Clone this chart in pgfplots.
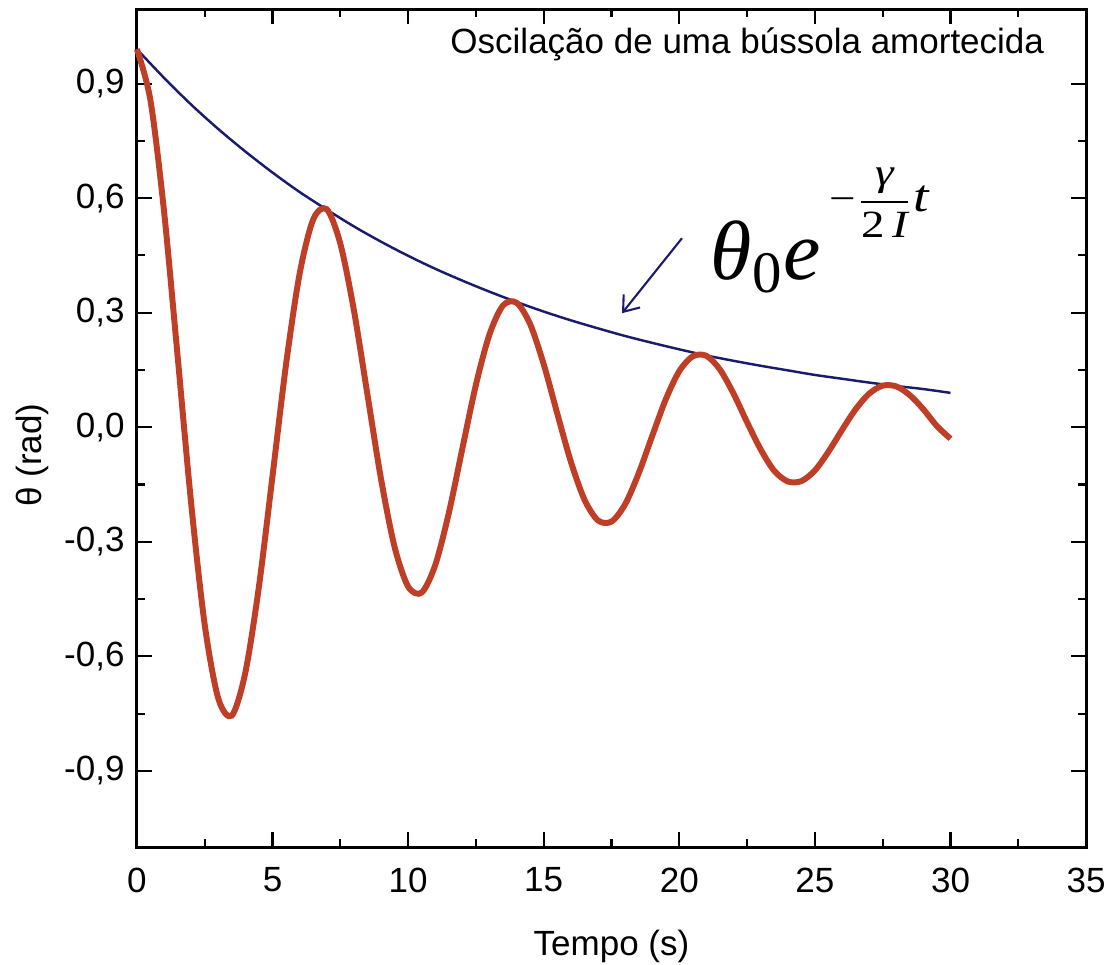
\documentclass[border=0pt]{standalone}
\usepackage{amsmath}
\usepackage{graphicx}
\usepackage{fontspec}
\setmainfont{Liberation Sans}
\newfontfamily\tnr{Liberation Serif}
\usepackage{pgfplots}
\pgfplotsset{compat=1.18}
\usetikzlibrary{arrows.meta}
\definecolor{dampred}{HTML}{BE3F26}
\definecolor{envblue}{HTML}{1B1B6E}
\newcommand{\ti}[1]{\text{\tnr\itshape #1}}
\newcommand{\tu}[1]{\text{\tnr\upshape #1}}

\begin{document}
\begin{tikzpicture}
\begin{axis}[
  scale only axis,
  width=271.1pt, height=239.4pt,
  xmin=0, xmax=35, ymin=-1.1, ymax=1.095,
  xtick={0,5,...,35},
  ytick={-0.9,-0.6,-0.3,0,0.3,0.6,0.9},
  minor tick num=1,
  tick align=inside,
  major tick length=4.3pt, minor tick length=2.3pt,
  axis line style={line width=0.85pt},
  tick style={line width=0.6pt, black},
  /pgf/number format/assume math mode=true,
  yticklabel style={/pgf/number format/.cd, fixed, fixed zerofill, precision=1, use comma},
  xticklabel style={yshift=-2.3pt},
  tick label style={font=\normalsize},
  xlabel={Tempo (s)},
  xlabel style={at={(axis description cs:0.5,-0.129)}, anchor=base},
  ylabel={θ (rad)},
  ylabel style={at={(axis description cs:-0.1096,0.468)}, anchor=center},
  clip=false,
]
% envelope theta0 exp(-gamma t / 2I)
\addplot[color=envblue, line width=0.7pt, smooth] coordinates {
  (0,0.990) (1,0.915) (2,0.845) (3,0.781) (4,0.722) (5,0.667)
  (6,0.616) (7,0.570) (8,0.526) (9,0.486) (10,0.449) (11,0.415)
  (12,0.384) (13,0.355) (14,0.328) (15,0.303) (16,0.280) (17,0.259)
  (18,0.239) (19,0.221) (20,0.204) (21,0.188) (22,0.174) (23,0.161)
  (24,0.149) (25,0.137) (26,0.127) (27,0.117) (28,0.108) (29,0.100)
  (30,0.090)
};
% damped compass oscillation
\addplot[color=dampred, line width=1.7pt, smooth] coordinates {
  (0,0.990) (0.5,0.856) (1,0.566) (1.5,0.187) (2,-0.199) (2.5,-0.517)
  (3,-0.710) (3.5,-0.755) (4,-0.642) (4.5,-0.417) (5,-0.128) (5.5,0.165)
  (6,0.402) (6.5,0.544) (7,0.571) (7.5,0.481) (8,0.307) (8.5,0.086)
  (9,-0.135) (9.5,-0.313) (10,-0.417) (10.5,-0.433) (11,-0.361) (11.5,-0.225)
  (12,-0.056) (12.5,0.111) (13,0.243) (13.5,0.319) (14,0.326) (14.5,0.270)
  (15,0.165) (15.5,0.036) (16,-0.090) (16.5,-0.189) (17,-0.244) (17.5,-0.247)
  (18,-0.202) (18.5,-0.121) (19,-0.023) (19.5,0.073) (20,0.147) (20.5,0.186)
  (21,0.187) (21.5,0.151) (22,0.088) (22.5,0.013) (23,-0.058) (23.5,-0.114)
  (24,-0.142) (24.5,-0.141) (25,-0.113) (25.5,-0.064) (26,-0.007) (26.5,0.047)
  (27,0.088) (27.5,0.109) (28,0.107) (28.5,0.084) (29,0.047) (29.5,0.003)
  (30,-0.030)
};
\node[anchor=base] at (axis description cs:0.643,0.9475) {Oscilação de uma bússola amortecida};
\node[anchor=base west, inner sep=0pt, font=\fontsize{24}{28}\selectfont]
  at (axis description cs:0.604,0.677)
  {$\ti{θ}_{\tu{0}}\ti{e}$\hspace{2.5pt}\raisebox{19.5pt}{\scalebox{1.22}[1]{\fontsize{11}{13}\selectfont$\tu{−}\dfrac{\ti{γ}}{\tu{2}\,\ti{I}}\text{\fontsize{13}{15}\selectfont\tnr\itshape t}$}}};
\draw[envblue, line width=0.6pt, -{Straight Barb[length=4pt, width=6pt]}]
  (axis description cs:0.5743,0.7267) -- (axis description cs:0.5111,0.6372);
\coordinate (sw) at (axis description cs:0,0);
\coordinate (ne) at (axis description cs:1,1);
\end{axis}
\pgfresetboundingbox
\path[use as bounding box] ([shift={(-39.1pt,-33.4pt)}]sw) rectangle ([shift={(9.4pt,2.6pt)}]ne);
\end{tikzpicture}
\end{document}
